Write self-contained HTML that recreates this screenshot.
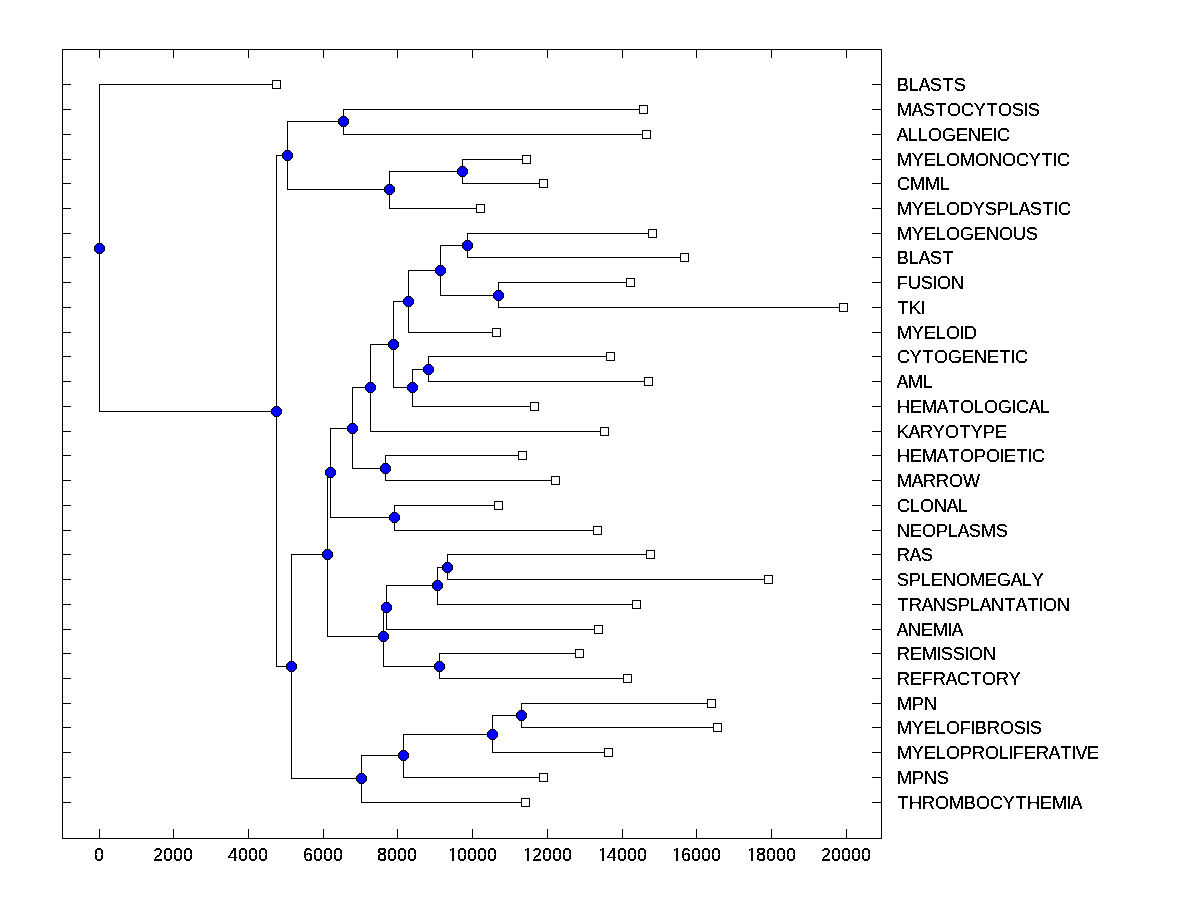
<!DOCTYPE html>
<html><head><meta charset="utf-8"><title>Dendrogram</title>
<style>
html,body{margin:0;padding:0;background:#fff;}
body{width:1200px;height:900px;overflow:hidden;}
svg{display:block;}
text{font-family:"Liberation Sans",Arial,Helvetica,sans-serif;font-size:18px;fill:#000;font-kerning:none;}
</style></head><body>
<svg width="1200" height="900" viewBox="0 0 1200 900">
<defs>
<filter id="th" x="-2%" y="-2%" width="104%" height="104%" color-interpolation-filters="sRGB"><feComponentTransfer><feFuncA type="discrete" tableValues="0 1 1"/></feComponentTransfer></filter>
</defs>
<rect width="1200" height="900" fill="#fff"/>
<path shape-rendering="crispEdges" fill="#000" d="M62 49h820v1h-820zM62 838h820v1h-820zM62 49h1v790h-1zM881 49h1v790h-1zM99 49h1v9h-1zM99 829h1v10h-1zM173 49h1v9h-1zM173 829h1v10h-1zM248 49h1v9h-1zM248 829h1v10h-1zM323 49h1v9h-1zM323 829h1v10h-1zM397 49h1v9h-1zM397 829h1v10h-1zM472 49h1v9h-1zM472 829h1v10h-1zM547 49h1v9h-1zM547 829h1v10h-1zM622 49h1v9h-1zM622 829h1v10h-1zM696 49h1v9h-1zM696 829h1v10h-1zM771 49h1v9h-1zM771 829h1v10h-1zM846 49h1v9h-1zM846 829h1v10h-1zM62 84h9v1h-9zM872 84h10v1h-10zM62 109h9v1h-9zM872 109h10v1h-10zM62 134h9v1h-9zM872 134h10v1h-10zM62 159h9v1h-9zM872 159h10v1h-10zM62 183h9v1h-9zM872 183h10v1h-10zM62 208h9v1h-9zM872 208h10v1h-10zM62 233h9v1h-9zM872 233h10v1h-10zM62 257h9v1h-9zM872 257h10v1h-10zM62 282h9v1h-9zM872 282h10v1h-10zM62 307h9v1h-9zM872 307h10v1h-10zM62 332h9v1h-9zM872 332h10v1h-10zM62 356h9v1h-9zM872 356h10v1h-10zM62 381h9v1h-9zM872 381h10v1h-10zM62 406h9v1h-9zM872 406h10v1h-10zM62 431h9v1h-9zM872 431h10v1h-10zM62 455h9v1h-9zM872 455h10v1h-10zM62 480h9v1h-9zM872 480h10v1h-10zM62 505h9v1h-9zM872 505h10v1h-10zM62 530h9v1h-9zM872 530h10v1h-10zM62 554h9v1h-9zM872 554h10v1h-10zM62 579h9v1h-9zM872 579h10v1h-10zM62 604h9v1h-9zM872 604h10v1h-10zM62 629h9v1h-9zM872 629h10v1h-10zM62 653h9v1h-9zM872 653h10v1h-10zM62 678h9v1h-9zM872 678h10v1h-10zM62 703h9v1h-9zM872 703h10v1h-10zM62 727h9v1h-9zM872 727h10v1h-10zM62 752h9v1h-9zM872 752h10v1h-10zM62 777h9v1h-9zM872 777h10v1h-10zM62 802h9v1h-9zM872 802h10v1h-10zM343 109h1v26h-1zM343 109h301v1h-301zM343 134h304v1h-304zM462 159h1v25h-1zM462 159h65v1h-65zM462 183h82v1h-82zM389 171h1v38h-1zM389 171h74v1h-74zM389 208h92v1h-92zM287 121h1v69h-1zM287 121h57v1h-57zM287 189h103v1h-103zM467 233h1v25h-1zM467 233h186v1h-186zM467 257h218v1h-218zM498 282h1v26h-1zM498 282h133v1h-133zM498 307h346v1h-346zM440 245h1v51h-1zM440 245h28v1h-28zM440 295h59v1h-59zM408 270h1v63h-1zM408 270h33v1h-33zM408 332h89v1h-89zM428 356h1v26h-1zM428 356h183v1h-183zM428 381h221v1h-221zM412 369h1v38h-1zM412 369h17v1h-17zM412 406h123v1h-123zM393 301h1v87h-1zM393 301h16v1h-16zM393 387h20v1h-20zM370 344h1v88h-1zM370 344h24v1h-24zM370 431h235v1h-235zM385 455h1v26h-1zM385 455h138v1h-138zM385 480h171v1h-171zM352 387h1v82h-1zM352 387h19v1h-19zM352 468h34v1h-34zM394 505h1v26h-1zM394 505h105v1h-105zM394 530h204v1h-204zM330 428h1v90h-1zM330 428h23v1h-23zM330 517h65v1h-65zM447 554h1v26h-1zM447 554h204v1h-204zM447 579h322v1h-322zM437 567h1v38h-1zM437 567h11v1h-11zM437 604h200v1h-200zM386 585h1v45h-1zM386 585h52v1h-52zM386 629h213v1h-213zM439 653h1v26h-1zM439 653h141v1h-141zM439 678h189v1h-189zM383 607h1v60h-1zM383 607h4v1h-4zM383 666h57v1h-57zM327 472h1v165h-1zM327 472h4v1h-4zM327 636h57v1h-57zM521 703h1v25h-1zM521 703h191v1h-191zM521 727h197v1h-197zM492 715h1v38h-1zM492 715h30v1h-30zM492 752h117v1h-117zM403 734h1v44h-1zM403 734h90v1h-90zM403 777h141v1h-141zM361 755h1v48h-1zM361 755h43v1h-43zM361 802h165v1h-165zM291 554h1v225h-1zM291 554h37v1h-37zM291 778h71v1h-71zM276 155h1v512h-1zM276 155h12v1h-12zM276 666h16v1h-16zM99 84h1v328h-1zM99 84h178v1h-178zM99 411h178v1h-178z"/>
<g shape-rendering="crispEdges"><path fill="#000" d="M272 80h9v9h-9zM639 105h9v9h-9zM642 130h9v9h-9zM522 155h9v9h-9zM539 179h9v9h-9zM476 204h9v9h-9zM648 229h9v9h-9zM680 253h9v9h-9zM626 278h9v9h-9zM839 303h9v9h-9zM492 328h9v9h-9zM606 352h9v9h-9zM644 377h9v9h-9zM530 402h9v9h-9zM600 427h9v9h-9zM518 451h9v9h-9zM551 476h9v9h-9zM494 501h9v9h-9zM593 526h9v9h-9zM646 550h9v9h-9zM764 575h9v9h-9zM632 600h9v9h-9zM594 625h9v9h-9zM575 649h9v9h-9zM623 674h9v9h-9zM707 699h9v9h-9zM713 723h9v9h-9zM604 748h9v9h-9zM539 773h9v9h-9zM521 798h9v9h-9z"/><path fill="#fff" d="M273 81h7v7h-7zM640 106h7v7h-7zM643 131h7v7h-7zM523 156h7v7h-7zM540 180h7v7h-7zM477 205h7v7h-7zM649 230h7v7h-7zM681 254h7v7h-7zM627 279h7v7h-7zM840 304h7v7h-7zM493 329h7v7h-7zM607 353h7v7h-7zM645 378h7v7h-7zM531 403h7v7h-7zM601 428h7v7h-7zM519 452h7v7h-7zM552 477h7v7h-7zM495 502h7v7h-7zM594 527h7v7h-7zM647 551h7v7h-7zM765 576h7v7h-7zM633 601h7v7h-7zM595 626h7v7h-7zM576 650h7v7h-7zM624 675h7v7h-7zM708 700h7v7h-7zM714 724h7v7h-7zM605 749h7v7h-7zM540 774h7v7h-7zM522 799h7v7h-7z"/><path fill="#000" d="M341 116h5v1h1v1h1v1h1v5h-1v1h-1v1h-1v1h-5v-1h-1v-1h-1v-1h-1v-5h1v-1h1v-1h1zM460 166h5v1h1v1h1v1h1v5h-1v1h-1v1h-1v1h-5v-1h-1v-1h-1v-1h-1v-5h1v-1h1v-1h1zM387 184h5v1h1v1h1v1h1v5h-1v1h-1v1h-1v1h-5v-1h-1v-1h-1v-1h-1v-5h1v-1h1v-1h1zM285 150h5v1h1v1h1v1h1v5h-1v1h-1v1h-1v1h-5v-1h-1v-1h-1v-1h-1v-5h1v-1h1v-1h1zM465 240h5v1h1v1h1v1h1v5h-1v1h-1v1h-1v1h-5v-1h-1v-1h-1v-1h-1v-5h1v-1h1v-1h1zM496 290h5v1h1v1h1v1h1v5h-1v1h-1v1h-1v1h-5v-1h-1v-1h-1v-1h-1v-5h1v-1h1v-1h1zM438 265h5v1h1v1h1v1h1v5h-1v1h-1v1h-1v1h-5v-1h-1v-1h-1v-1h-1v-5h1v-1h1v-1h1zM406 296h5v1h1v1h1v1h1v5h-1v1h-1v1h-1v1h-5v-1h-1v-1h-1v-1h-1v-5h1v-1h1v-1h1zM426 364h5v1h1v1h1v1h1v5h-1v1h-1v1h-1v1h-5v-1h-1v-1h-1v-1h-1v-5h1v-1h1v-1h1zM410 382h5v1h1v1h1v1h1v5h-1v1h-1v1h-1v1h-5v-1h-1v-1h-1v-1h-1v-5h1v-1h1v-1h1zM391 339h5v1h1v1h1v1h1v5h-1v1h-1v1h-1v1h-5v-1h-1v-1h-1v-1h-1v-5h1v-1h1v-1h1zM368 382h5v1h1v1h1v1h1v5h-1v1h-1v1h-1v1h-5v-1h-1v-1h-1v-1h-1v-5h1v-1h1v-1h1zM383 463h5v1h1v1h1v1h1v5h-1v1h-1v1h-1v1h-5v-1h-1v-1h-1v-1h-1v-5h1v-1h1v-1h1zM350 423h5v1h1v1h1v1h1v5h-1v1h-1v1h-1v1h-5v-1h-1v-1h-1v-1h-1v-5h1v-1h1v-1h1zM392 512h5v1h1v1h1v1h1v5h-1v1h-1v1h-1v1h-5v-1h-1v-1h-1v-1h-1v-5h1v-1h1v-1h1zM328 467h5v1h1v1h1v1h1v5h-1v1h-1v1h-1v1h-5v-1h-1v-1h-1v-1h-1v-5h1v-1h1v-1h1zM445 562h5v1h1v1h1v1h1v5h-1v1h-1v1h-1v1h-5v-1h-1v-1h-1v-1h-1v-5h1v-1h1v-1h1zM435 580h5v1h1v1h1v1h1v5h-1v1h-1v1h-1v1h-5v-1h-1v-1h-1v-1h-1v-5h1v-1h1v-1h1zM384 602h5v1h1v1h1v1h1v5h-1v1h-1v1h-1v1h-5v-1h-1v-1h-1v-1h-1v-5h1v-1h1v-1h1zM437 661h5v1h1v1h1v1h1v5h-1v1h-1v1h-1v1h-5v-1h-1v-1h-1v-1h-1v-5h1v-1h1v-1h1zM381 631h5v1h1v1h1v1h1v5h-1v1h-1v1h-1v1h-5v-1h-1v-1h-1v-1h-1v-5h1v-1h1v-1h1zM325 549h5v1h1v1h1v1h1v5h-1v1h-1v1h-1v1h-5v-1h-1v-1h-1v-1h-1v-5h1v-1h1v-1h1zM519 710h5v1h1v1h1v1h1v5h-1v1h-1v1h-1v1h-5v-1h-1v-1h-1v-1h-1v-5h1v-1h1v-1h1zM490 729h5v1h1v1h1v1h1v5h-1v1h-1v1h-1v1h-5v-1h-1v-1h-1v-1h-1v-5h1v-1h1v-1h1zM401 750h5v1h1v1h1v1h1v5h-1v1h-1v1h-1v1h-5v-1h-1v-1h-1v-1h-1v-5h1v-1h1v-1h1zM359 773h5v1h1v1h1v1h1v5h-1v1h-1v1h-1v1h-5v-1h-1v-1h-1v-1h-1v-5h1v-1h1v-1h1zM289 661h5v1h1v1h1v1h1v5h-1v1h-1v1h-1v1h-5v-1h-1v-1h-1v-1h-1v-5h1v-1h1v-1h1zM274 406h5v1h1v1h1v1h1v5h-1v1h-1v1h-1v1h-5v-1h-1v-1h-1v-1h-1v-5h1v-1h1v-1h1zM97 243h5v1h1v1h1v1h1v5h-1v1h-1v1h-1v1h-5v-1h-1v-1h-1v-1h-1v-5h1v-1h1v-1h1z"/><path fill="#00f" d="M341 117h5v1h1v1h1v5h-1v1h-1v1h-5v-1h-1v-1h-1v-5h1v-1h1zM460 167h5v1h1v1h1v5h-1v1h-1v1h-5v-1h-1v-1h-1v-5h1v-1h1zM387 185h5v1h1v1h1v5h-1v1h-1v1h-5v-1h-1v-1h-1v-5h1v-1h1zM285 151h5v1h1v1h1v5h-1v1h-1v1h-5v-1h-1v-1h-1v-5h1v-1h1zM465 241h5v1h1v1h1v5h-1v1h-1v1h-5v-1h-1v-1h-1v-5h1v-1h1zM496 291h5v1h1v1h1v5h-1v1h-1v1h-5v-1h-1v-1h-1v-5h1v-1h1zM438 266h5v1h1v1h1v5h-1v1h-1v1h-5v-1h-1v-1h-1v-5h1v-1h1zM406 297h5v1h1v1h1v5h-1v1h-1v1h-5v-1h-1v-1h-1v-5h1v-1h1zM426 365h5v1h1v1h1v5h-1v1h-1v1h-5v-1h-1v-1h-1v-5h1v-1h1zM410 383h5v1h1v1h1v5h-1v1h-1v1h-5v-1h-1v-1h-1v-5h1v-1h1zM391 340h5v1h1v1h1v5h-1v1h-1v1h-5v-1h-1v-1h-1v-5h1v-1h1zM368 383h5v1h1v1h1v5h-1v1h-1v1h-5v-1h-1v-1h-1v-5h1v-1h1zM383 464h5v1h1v1h1v5h-1v1h-1v1h-5v-1h-1v-1h-1v-5h1v-1h1zM350 424h5v1h1v1h1v5h-1v1h-1v1h-5v-1h-1v-1h-1v-5h1v-1h1zM392 513h5v1h1v1h1v5h-1v1h-1v1h-5v-1h-1v-1h-1v-5h1v-1h1zM328 468h5v1h1v1h1v5h-1v1h-1v1h-5v-1h-1v-1h-1v-5h1v-1h1zM445 563h5v1h1v1h1v5h-1v1h-1v1h-5v-1h-1v-1h-1v-5h1v-1h1zM435 581h5v1h1v1h1v5h-1v1h-1v1h-5v-1h-1v-1h-1v-5h1v-1h1zM384 603h5v1h1v1h1v5h-1v1h-1v1h-5v-1h-1v-1h-1v-5h1v-1h1zM437 662h5v1h1v1h1v5h-1v1h-1v1h-5v-1h-1v-1h-1v-5h1v-1h1zM381 632h5v1h1v1h1v5h-1v1h-1v1h-5v-1h-1v-1h-1v-5h1v-1h1zM325 550h5v1h1v1h1v5h-1v1h-1v1h-5v-1h-1v-1h-1v-5h1v-1h1zM519 711h5v1h1v1h1v5h-1v1h-1v1h-5v-1h-1v-1h-1v-5h1v-1h1zM490 730h5v1h1v1h1v5h-1v1h-1v1h-5v-1h-1v-1h-1v-5h1v-1h1zM401 751h5v1h1v1h1v5h-1v1h-1v1h-5v-1h-1v-1h-1v-5h1v-1h1zM359 774h5v1h1v1h1v5h-1v1h-1v1h-5v-1h-1v-1h-1v-5h1v-1h1zM289 662h5v1h1v1h1v5h-1v1h-1v1h-5v-1h-1v-1h-1v-5h1v-1h1zM274 407h5v1h1v1h1v5h-1v1h-1v1h-5v-1h-1v-1h-1v-5h1v-1h1zM97 244h5v1h1v1h1v5h-1v1h-1v1h-5v-1h-1v-1h-1v-5h1v-1h1z"/></g>
<g class="labels" filter="url(#th)"><text x="897 908.5 918.5 930 942.5 954" y="91">BLASTS</text><text x="897 911.5 923 935.5 947 961 973.7 986.5 998 1012 1023.5 1028" y="116">MASTOCYTOSIS</text><text x="896.5 907.5 917.5 928 942 956 968 981 992.5 997" y="141">ALLOGENEIC</text><text x="897 911.7 924 935.5 946 960 975 989 1002 1016 1028.7 1041.5 1052.5 1057" y="166">MYELOMONOCYTIC</text><text x="897 910 925 939.5" y="190">CMML</text><text x="897 911.7 924 935.5 946 960 972.7 985 997 1008.5 1018.5 1030 1042.5 1053.5 1058" y="215">MYELODYSPLASTIC</text><text x="897 911.7 924 935.5 946 960 974 986 999 1013 1026" y="240">MYELOGENOUS</text><text x="897 908.5 918.5 930 942.5" y="264">BLAST</text><text x="897 908 921 932.5 937 951" y="289">FUSION</text><text x="897.5 909 920.5" y="314">TKI</text><text x="897 911.7 924 935.5 946 959.5 964" y="339">MYELOID</text><text x="897 909.7 922.5 934 948 962 974 987 999.5 1010.5 1015" y="363">CYTOGENETIC</text><text x="896.5 908 922.5" y="388">AML</text><text x="897 910 922 936.5 948.5 960 973.5 984 998 1011.5 1016 1028.5 1039.5" y="413">HEMATOLOGICAL</text><text x="897 908.5 920 932.7 945 959.5 970.7 983 995" y="438">KARYOTYPE</text><text x="897 910 922 936.5 948.5 960 974 986 999.5 1004 1016.5 1027.5 1032" y="462">HEMATOPOIETIC</text><text x="897 911.5 923 936 949 963" y="487">MARROW</text><text x="897 909.5 920 934 946.5 957.5" y="512">CLONAL</text><text x="897 910 922 936 947.5 957.5 969 981 996" y="537">NEOPLASMS</text><text x="897 909.5 921" y="561">RAS</text><text x="897 909 920.5 931 943 956 970 985 997 1010.5 1021.5 1031.7" y="586">SPLENOMEGALY</text><text x="897.5 909 921.5 933 946 958 969.5 979.5 991 1004.5 1015.5 1027.5 1038.5 1043 1057" y="611">TRANSPLANTATION</text><text x="896.5 908 921 933 947.5 951.5" y="636">ANEMIA</text><text x="897 910 922 936.5 941 953 964.5 969 983" y="660">REMISSION</text><text x="897 910 922 933 945.5 957 970.5 982 996 1008.7" y="685">REFRACTORY</text><text x="897 912 924" y="710">MPN</text><text x="897 911.7 924 935.5 946 960 970.5 975 987 1000 1014 1025.5 1030" y="734">MYELOFIBROSIS</text><text x="897 911.7 924 935.5 946 960 972 985 998.5 1008.5 1013 1024 1036 1048.5 1060.5 1071.5 1075.5 1087" y="759">MYELOPROLIFERATIVE</text><text x="897 912 924 937" y="784">MPNS</text><text x="897.5 909 922 935 949 964 976 990 1002.7 1015.5 1027 1040 1052 1066.5 1070.5" y="809">THROMBOCYTHEMIA</text></g>
<g class="ticks" filter="url(#th)"><text x="94" y="861">0</text><text x="153 163 173 183" y="861">2000</text><text x="227.7 238 248 258" y="861">4000</text><text x="303 313 323 333" y="861">6000</text><text x="377 387 397 407" y="861">8000</text><text x="448 457 467 477 487" y="861">10000</text><text x="523 532 542 552 562" y="861">12000</text><text x="598 606.7 617 627 637" y="861">14000</text><text x="672 681 691 701 711" y="861">16000</text><text x="747 756 766 776 786" y="861">18000</text><text x="821 831 841 851 861" y="861">20000</text></g>
<g fill="#fff" shape-rendering="crispEdges"><rect x="448" y="859" width="4" height="3"/><rect x="454" y="859" width="3" height="3"/><rect x="523" y="859" width="4" height="3"/><rect x="529" y="859" width="3" height="3"/><rect x="598" y="859" width="4" height="3"/><rect x="604" y="859" width="3" height="3"/><rect x="672" y="859" width="4" height="3"/><rect x="678" y="859" width="3" height="3"/><rect x="747" y="859" width="4" height="3"/><rect x="753" y="859" width="3" height="3"/></g>
</svg>
</body></html>
